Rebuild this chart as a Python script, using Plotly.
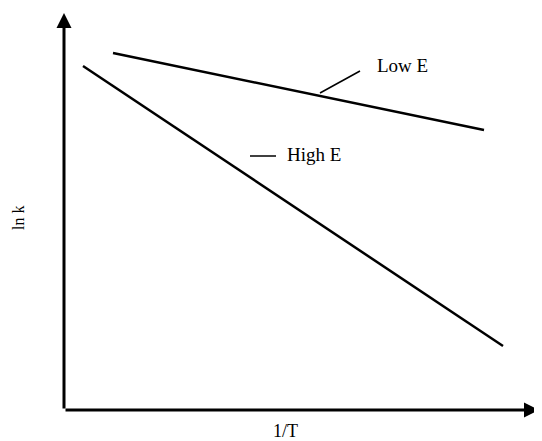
import plotly.graph_objects as go

# Arbitrary units (1/T on x, ln k on y); origin at axes corner
inv_T_low_E = [49, 420]
ln_k_low_E = [357, 280]
inv_T_high_E = [19, 439]
ln_k_high_E = [344, 64]

FONT = "Liberation Serif, Times New Roman, serif"

fig = go.Figure()
fig.add_trace(go.Scatter(x=inv_T_low_E, y=ln_k_low_E, mode="lines",
                         line=dict(color="black", width=2.5), name="Low E",
                         showlegend=False, hoverinfo="skip"))
fig.add_trace(go.Scatter(x=inv_T_high_E, y=ln_k_high_E, mode="lines",
                         line=dict(color="black", width=2.5), name="High E",
                         showlegend=False, hoverinfo="skip"))

annotations = [
    # x axis arrow
    dict(x=475, y=0, ax=0, ay=0, xref="x", yref="y", axref="x", ayref="y",
         showarrow=True, arrowhead=2, arrowsize=1, arrowwidth=3, arrowcolor="black", text=""),
    # y axis arrow
    dict(x=0, y=397, ax=0, ay=0, xref="x", yref="y", axref="x", ayref="y",
         showarrow=True, arrowhead=2, arrowsize=1, arrowwidth=3, arrowcolor="black", text=""),
    # labels
    dict(x=338, y=345, xref="x", yref="y", text="Low E", showarrow=False,
         font=dict(family=FONT, size=19, color="black")),
    dict(x=250, y=256, xref="x", yref="y", text="High E", showarrow=False,
         font=dict(family=FONT, size=19, color="black")),
    dict(x=221, y=-21, xref="x", yref="y", text="1/T", showarrow=False,
         font=dict(family=FONT, size=18, color="black")),
    dict(x=-46, y=192, xref="x", yref="y", text="ln k", showarrow=False, textangle=-90,
         font=dict(family=FONT, size=16, color="black")),
]

shapes = [
    # leader line for Low E
    dict(type="line", x0=256, y0=317, x1=296, y1=339, xref="x", yref="y",
         line=dict(color="black", width=1.5)),
    # dash for High E
    dict(type="line", x0=186, y0=254, x1=212, y1=254, xref="x", yref="y",
         line=dict(color="black", width=1.5)),
]

fig.update_layout(
    width=534, height=433,
    margin=dict(l=0, r=0, t=0, b=0),
    paper_bgcolor="white", plot_bgcolor="white",
    xaxis=dict(range=[-56, 478], visible=False, fixedrange=True),
    yaxis=dict(range=[-31, 402], visible=False, fixedrange=True),
    annotations=annotations, shapes=shapes,
)

fig.write_html("out.html")
